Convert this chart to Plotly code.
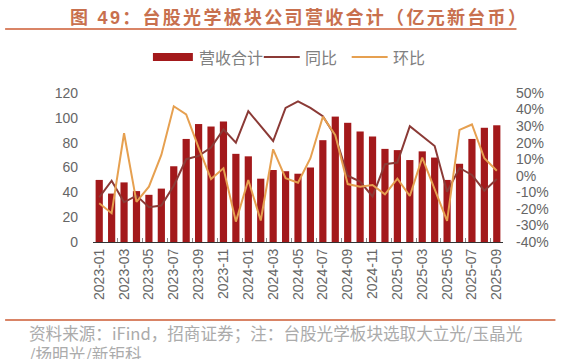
import plotly.graph_objects as go

months = ["2023-01", "2023-02", "2023-03", "2023-04", "2023-05", "2023-06",
          "2023-07", "2023-08", "2023-09", "2023-10", "2023-11", "2023-12",
          "2024-01", "2024-02", "2024-03", "2024-04", "2024-05", "2024-06",
          "2024-07", "2024-08", "2024-09", "2024-10", "2024-11", "2024-12",
          "2025-01", "2025-02", "2025-03", "2025-04", "2025-05", "2025-06",
          "2025-07", "2025-08", "2025-09"]
revenue = [50, 39, 48, 41, 38, 43, 61, 83, 95, 93, 97, 71,
           69, 51, 58, 57, 55, 60, 82, 101, 96, 89, 85, 75,
           74, 66, 73, 68, 50, 63, 83, 92, 94]
yoy = [-13, -3, -16, -12, -19, -18, -6, 10, 12, 17, 28, 20,
       39, 30, 21, 41, 45, 41, 36, 24, 0, -3.5, -12.5, 7,
       8, 30, 24, 18, -9.6, 4.7, 0.5, -9, -2]
mom = [-16.6, -22.6, 25.7, -15.8, -6.6, 12.6, 42, 37, 17, -2, 4.5, -27.7,
       -2.5, -27, 16, -1.5, -4.2, 10.6, 35.7, 24.6, -5, -6.6, -5.6, -11.2,
       -1.7, -12.2, 11, -7.6, -27.3, 27.7, 31, 10.6, 3]
left_ticks = [0, 20, 40, 60, 80, 100, 120]
right_ticks = [-40, -30, -20, -10, 0, 10, 20, 30, 40, 50]

BAR_C = "#A3191B"
YOY_C = "#8B3A36"
MOM_C = "#E6A050"
TITLE_C = "#C8704E"
RULE_C = "#D98466"
FONT = "Liberation Sans, Noto Sans CJK SC"
CJK = "Noto Sans CJK SC"

L, R, T, B = 93, 503.5, 93, 242
W, H = R - L, B - T


def px(x):
    return (x - L) / W


def py(y):
    return (B - y) / H


fig = go.Figure()
fig.add_trace(go.Bar(x=months, y=revenue, name="营收合计", marker_color=BAR_C,
                     marker_line_width=0, yaxis="y"))
fig.add_trace(go.Scatter(x=months, y=yoy, name="同比", mode="lines",
                         line=dict(color=YOY_C, width=2), yaxis="y2"))
fig.add_trace(go.Scatter(x=months, y=mom, name="环比", mode="lines",
                         line=dict(color=MOM_C, width=2), yaxis="y2"))

shapes = []
annotations = []
# title + rule
annotations.append(dict(xref="paper", yref="paper", x=px(68), y=py(17),
                        xanchor="left", yanchor="middle", showarrow=False,
                        text="<span style='letter-spacing:2.3px'><b>图 49：台股光学板块公司营收合计（亿元新台币）</b></span>",
                        font=dict(family=FONT, size=18, color=TITLE_C)))
shapes.append(dict(type="line", xref="paper", yref="paper", x0=px(5), x1=px(517),
                   y0=py(29), y1=py(29), line=dict(color=RULE_C, width=2)))
# legend
shapes.append(dict(type="rect", xref="paper", yref="paper", x0=px(153), x1=px(193),
                   y0=py(61), y1=py(53), fillcolor=BAR_C, line=dict(width=0)))
shapes.append(dict(type="line", xref="paper", yref="paper", x0=px(264), x1=px(300),
                   y0=py(57), y1=py(57), line=dict(color=YOY_C, width=2)))
shapes.append(dict(type="line", xref="paper", yref="paper", x0=px(352), x1=px(388),
                   y0=py(57), y1=py(57), line=dict(color=MOM_C, width=2)))
for txt, x0 in [("营收合计", 197), ("同比", 303), ("环比", 391)]:
    annotations.append(dict(xref="paper", yref="paper", x=px(x0), y=py(57),
                            xanchor="left", yanchor="middle", showarrow=False,
                            text=txt, font=dict(family=CJK, size=16, color="#808080")))
# source
shapes.append(dict(type="line", xref="paper", yref="paper", x0=px(5), x1=px(556),
                   y0=py(320), y1=py(320), line=dict(color=RULE_C, width=2)))
annotations.append(dict(xref="paper", yref="paper", x=px(27), y=py(333),
                        xanchor="left", yanchor="middle", showarrow=False,
                        text="资料来源：iFind，招商证券；注：台股光学板块选取大立光/玉晶光",
                        font=dict(family=CJK, size=16.6, color="#ABABAB")))
annotations.append(dict(xref="paper", yref="paper", x=px(27), y=py(354),
                        xanchor="left", yanchor="middle", showarrow=False,
                        text="/扬明光/新钜科",
                        font=dict(family=CJK, size=16.6, color="#ABABAB")))

fig.update_layout(
    width=561, height=359,
    margin=dict(l=L, r=561 - R, t=T, b=359 - B, pad=0),
    paper_bgcolor="white", plot_bgcolor="white",
    showlegend=False, bargap=0.42,
    shapes=shapes, annotations=annotations,
    xaxis=dict(type="category", tickmode="linear", tick0=0, dtick=2,
               tickson="boundaries", ticks="inside", ticklen=4, tickcolor="#888888",
               showline=True, linecolor="#333333", linewidth=1,
               tickangle=-90, tickfont=dict(family=FONT, size=14, color="#666666"),
               showgrid=False, range=[-0.5, len(months) - 0.5]),
    yaxis=dict(range=[0, 120], tickvals=left_ticks, showgrid=False, zeroline=False,
               showline=False, ticks="", ticklabelstandoff=14,
               tickfont=dict(family=FONT, size=14, color="#666666")),
    yaxis2=dict(range=[-40, 50], tickvals=right_ticks,
                ticktext=[f"{v}%" for v in right_ticks],
                overlaying="y", side="right", showgrid=False, zeroline=False,
                showline=False, ticks="", ticklabelstandoff=12,
                tickfont=dict(family=FONT, size=14, color="#666666")),
)

fig.write_html("out.html")
